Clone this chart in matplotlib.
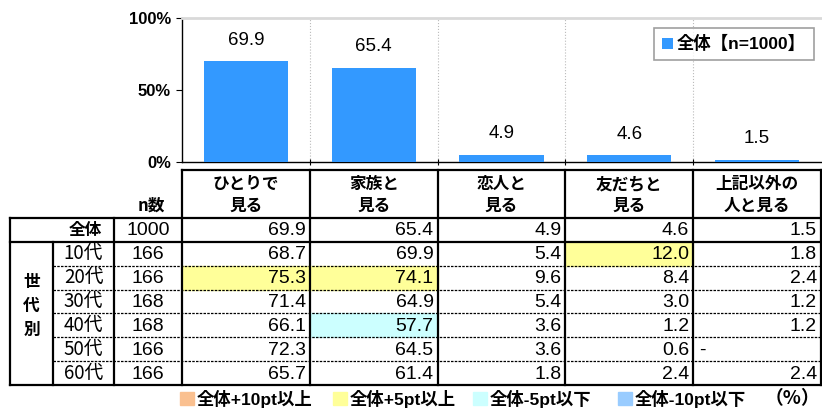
import matplotlib
matplotlib.use("Agg")
import matplotlib.pyplot as plt
from matplotlib.patches import Rectangle

plt.rcParams['font.family'] = ['Noto Sans CJK JP', 'DejaVu Sans']
NUM = ['Liberation Sans', 'Noto Sans CJK JP', 'DejaVu Sans']   # latin digits first, CJK fallback

# data
categories = ["ひとりで\n見る", "家族と\n見る", "恋人と\n見る", "友だちと\n見る", "上記以外の\n人と見る"]
total_values = [69.9, 65.4, 4.9, 4.6, 1.5]
total_n = 1000
age_labels = ["10代", "20代", "30代", "40代", "50代", "60代"]
age_n = [166, 166, 168, 168, 166, 166]
age_values = [
    [68.7, 69.9, 5.4, 12.0, 1.8],
    [75.3, 74.1, 9.6, 8.4, 2.4],
    [71.4, 64.9, 5.4, 3.0, 1.2],
    [66.1, 57.7, 3.6, 1.2, 1.2],
    [72.3, 64.5, 3.6, 0.6, None],
    [65.7, 61.4, 1.8, 2.4, 2.4],
]
legend_label = "全体【n=1000】"
key_labels = ["全体+10pt以上", "全体+5pt以上", "全体-5pt以下", "全体-10pt以下"]
key_colors = ["#FAC090", "#FFFF99", "#CCFFFF", "#99CCFF"]

bar_color = "#3399FF"
W, H = 822, 409

fig = plt.figure(figsize=(W / 100, H / 100), dpi=100)

# column edges in pixels
x0, x1 = 182, 821
col_w = (x1 - x0) / len(categories)
col_edges = [x0 + col_w * i for i in range(len(categories) + 1)]
chart_top, chart_bottom = 18, 162

# ---- bar chart ----
ax = fig.add_axes([x0 / W, 1 - chart_bottom / H, (x1 - x0) / W, (chart_bottom - chart_top) / H])
xs = list(range(len(categories)))
bars = ax.bar(xs, total_values, width=0.66, color=bar_color, zorder=3)
for b, v in zip(bars, total_values):
    ax.annotate(f"{v:.1f}", (b.get_x() + b.get_width() / 2, v), xytext=(0, 9),
                textcoords="offset points", ha="center", va="bottom", fontsize=13.5, family=NUM)
ax.set_xlim(-0.5, len(categories) - 0.5)
ax.set_ylim(0, 100)
ax.set_yticks([0, 50, 100])
ax.set_yticklabels(["0%", "50%", "100%"], fontsize=12, fontweight="bold", family=NUM)
ax.set_xticks([i + 0.5 for i in range(len(categories) - 1)])
ax.set_xticklabels([])
ax.tick_params(axis="x", direction="inout", length=5, width=0.8)
ax.tick_params(axis="y", direction="out", length=4, width=0.8, pad=4)
for i in range(len(categories) - 1):
    ax.axvline(i + 0.5, color="#bbbbbb", lw=0.8, ls=":", zorder=1)
ax.spines["right"].set_visible(False)
ax.spines["top"].set_color("#d9d9d9")
ax.spines["top"].set_linewidth(2)
ax.spines["left"].set_linewidth(1)
ax.spines["bottom"].set_linewidth(1)

leg = ax.legend([bars[0]], [legend_label], loc="upper right", bbox_to_anchor=(0.997, 0.97),
                fancybox=False, edgecolor="#888888", handlelength=0.6, handleheight=0.6,
                handletextpad=0.25, prop={"weight": "bold", "size": 12.5, "family": NUM},
                borderpad=0.45, borderaxespad=0.3)
leg.get_frame().set_linewidth(1.2)

# ---- table ----
tab = fig.add_axes([0, 0, 1, 1])
tab.set_xlim(0, W)
tab.set_ylim(H, 0)
tab.axis("off")
tab.patch.set_alpha(0)

head_top, head_bot = 170, 218
row_h = (385 - head_bot) / 7
row_edges = [head_bot + row_h * i for i in range(8)]
left, group_x, label_x = 10, 53, 114

def cell_color(v, base):
    if v is None:
        return None
    d = v - base
    if d >= 10:
        return key_colors[0]
    if d >= 5:
        return key_colors[1]
    if d <= -10:
        return key_colors[3]
    if d <= -5:
        return key_colors[2]
    return None

fs = 14
lw_thick = 1.6
# header
for j, c in enumerate(categories):
    cx = (col_edges[j] + col_edges[j + 1]) / 2
    tab.text(cx, (head_top + head_bot) / 2 + 1, c, ha="center", va="center",
             fontsize=12, fontweight="bold", linespacing=1.25)
tab.text(151, head_bot - 3, "n数", ha="center", va="bottom", fontsize=12, fontweight="bold")

# total row
r0, r1 = row_edges[0], row_edges[1]
tab.text((group_x + label_x) / 2 + 2, (r0 + r1) / 2, "全体", ha="center", va="center",
         fontsize=12, fontweight="bold")
tab.text((label_x + x0) / 2, (r0 + r1) / 2 + 1, str(total_n), ha="center", va="center",
         fontsize=fs, family=NUM)
for j, v in enumerate(total_values):
    tab.text(col_edges[j + 1] - 4, (r0 + r1) / 2 + 1, f"{v:.1f}", ha="right", va="center",
             fontsize=fs, family=NUM)

# age rows
for i, (lab, n, vals) in enumerate(zip(age_labels, age_n, age_values)):
    r0, r1 = row_edges[i + 1], row_edges[i + 2]
    cy = (r0 + r1) / 2 + 1
    tab.text((group_x + label_x) / 2, cy - 1, lab, ha="center", va="center", fontsize=13.5)
    tab.text((label_x + x0) / 2, cy, str(n), ha="center", va="center", fontsize=fs, family=NUM)
    for j, v in enumerate(vals):
        col = cell_color(v, total_values[j])
        if col:
            tab.add_patch(Rectangle((col_edges[j], r0), col_w, r1 - r0, color=col, zorder=0))
        if v is None:
            tab.text(col_edges[j] + 6, cy, "-", ha="left", va="center", fontsize=fs, family=NUM)
        else:
            tab.text(col_edges[j + 1] - 4, cy, f"{v:.1f}", ha="right", va="center",
                     fontsize=fs, family=NUM)

for k, ch in enumerate("世代別"):
    tab.text((left + group_x) / 2, row_edges[1] + row_h * (1.7 + k * 1.0), ch,
             ha="center", va="center", fontsize=12, fontweight="bold")

# grid lines
bottom = row_edges[-1]
tab.plot([x0, x1], [head_top, head_top], color="black", lw=lw_thick)
for y in (row_edges[0], row_edges[1], bottom):
    tab.plot([left, x1], [y, y], color="black", lw=lw_thick)
for y in row_edges[2:-1]:
    tab.plot([group_x, x1], [y, y], color="black", lw=0.9, ls=(0, (2, 1)))
tab.plot([left, left], [row_edges[0], bottom], color="black", lw=lw_thick)
tab.plot([group_x, group_x], [row_edges[1], bottom], color="black", lw=lw_thick)
tab.plot([label_x, label_x], [row_edges[0], bottom], color="black", lw=lw_thick)
for x in col_edges:
    tab.plot([x, x], [head_top, bottom], color="black", lw=lw_thick)

# colour key
key_x = [180, 333, 473, 618]
for kx, kl, kc in zip(key_x, key_labels, key_colors):
    tab.add_patch(Rectangle((kx, 392), 14, 13, color=kc))
    tab.text(kx + 17, 398.5, kl, ha="left", va="center", fontsize=12.5, fontweight="bold", family=NUM)
tab.text(820, 398.5, "（%）", ha="right", va="center", fontsize=13.5, fontweight="bold")

fig.savefig("out.png", dpi=100)
